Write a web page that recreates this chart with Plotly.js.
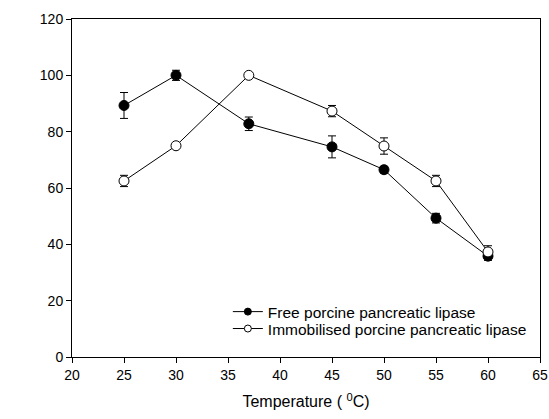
<!DOCTYPE html>
<html>
<head>
<meta charset="utf-8">
<script src="https://cdn.plot.ly/plotly-3.0.1.min.js"></script>
<style>html,body{margin:0;padding:0;background:#fff;}#chart{width:549px;height:419px;}</style>
</head>
<body>
<div id="chart"></div>
<script>
const temperature = [25, 30, 37, 45, 50, 55, 60];
const freeActivity = [89.3, 100, 82.8, 74.6, 66.5, 49.3, 35.8];
const freeError = [4.6, 1.8, 2.4, 3.9, 1.2, 1.7, 1.5];
const immobActivity = [62.5, 75, 100, 87.3, 74.9, 62.5, 37.3];
const immobError = [2.0, 0, 0, 2.0, 2.9, 2.0, 2.2];
const seriesNames = ["Free porcine pancreatic lipase", "Immobilised porcine pancreatic lipase"];
const xTicks = [20, 25, 30, 35, 40, 45, 50, 55, 60, 65];
const yTicks = [0, 20, 40, 60, 80, 100, 120];

const errStyle = {type: 'data', visible: true, color: '#000', thickness: 1, width: 4};
const fills = ['#000', '#fff'];
const traces = [
  {
    x: temperature, y: freeActivity, name: seriesNames[0], type: 'scatter', mode: 'lines+markers',
    showlegend: false,
    line: {color: '#000', width: 1},
    marker: {symbol: 'circle', size: 10, color: fills[0], line: {color: '#000', width: 1}},
    error_y: Object.assign({array: freeError}, errStyle)
  },
  {
    x: temperature, y: immobActivity, name: seriesNames[1], type: 'scatter', mode: 'lines+markers',
    showlegend: false,
    line: {color: '#000', width: 1},
    marker: {symbol: 'circle', size: 10, color: fills[1], line: {color: '#000', width: 1}},
    error_y: Object.assign({array: immobError}, errStyle)
  },
  // legend entries (smaller symbols, as in the reference key)
  {
    x: [null], y: [null], name: seriesNames[0], type: 'scatter', mode: 'lines+markers',
    legend: 'legend', showlegend: true, hoverinfo: 'skip',
    line: {color: '#000', width: 1},
    marker: {symbol: 'circle', size: 7, color: fills[0], line: {color: '#000', width: 1}}
  },
  {
    x: [null], y: [null], name: seriesNames[1], type: 'scatter', mode: 'lines+markers',
    legend: 'legend2', showlegend: true, hoverinfo: 'skip',
    line: {color: '#000', width: 1},
    marker: {symbol: 'circle', size: 7, color: fills[1], line: {color: '#000', width: 1}}
  }
];

const legendBase = {
  xanchor: 'left', yanchor: 'middle',
  bgcolor: 'rgba(0,0,0,0)', borderwidth: 0,
  font: {size: 15.5, color: '#000'}
};

const layout = {
  width: 549, height: 419,
  margin: {l: 72, r: 9, t: 19, b: 62},
  paper_bgcolor: '#fff', plot_bgcolor: '#fff',
  font: {family: 'Liberation Sans, Arial, sans-serif', size: 14, color: '#000'},
  showlegend: true,
  legend: Object.assign({x: 0.333, y: 0.133}, legendBase),
  legend2: Object.assign({x: 0.333, y: 0.083}, legendBase),
  xaxis: {
    range: [20, 65], tickvals: xTicks, ticktext: xTicks.map(String),
    showgrid: false, zeroline: false, showline: true, linecolor: '#000', linewidth: 1,
    mirror: true, ticks: 'outside', ticklen: 5, tickcolor: '#000', tickwidth: 1,
    title: {text: 'Temperature ( <sup>0</sup>C)', font: {size: 16}, standoff: 14}
  },
  yaxis: {
    range: [0, 120], tickvals: yTicks, ticktext: yTicks.map(String),
    showgrid: false, zeroline: false, showline: true, linecolor: '#000', linewidth: 1,
    mirror: true, ticks: 'outside', ticklen: 5, tickcolor: '#000', tickwidth: 1
  }
};

Plotly.newPlot('chart', traces, layout, {displayModeBar: false, staticPlot: true});
</script>
</body>
</html>
